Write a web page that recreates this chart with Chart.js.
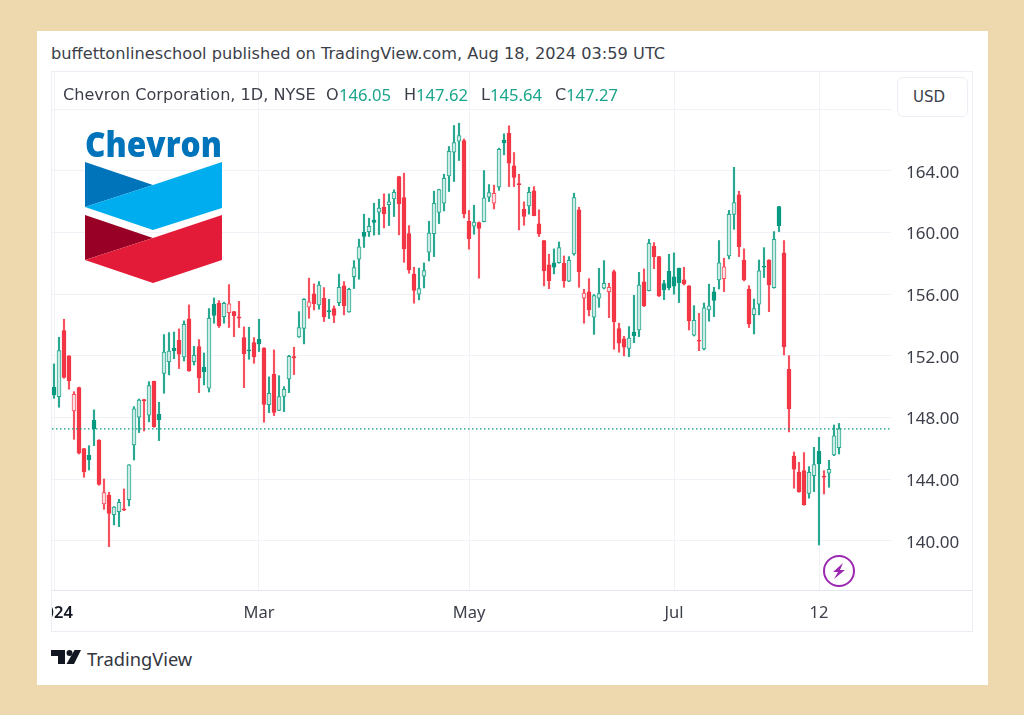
<!DOCTYPE html>
<html>
<head>
<meta charset="utf-8">
<title>Chevron Corporation, 1D, NYSE</title>
<script src="https://cdn.jsdelivr.net/npm/chart.js@4"></script>
<style>
  html, body { margin: 0; padding: 0; background: #eed9ae; width: 1024px; height: 715px; overflow: hidden; }
  body { position: relative; font-family: "DejaVu Sans", sans-serif; }
  .card { position: absolute; left: 37px; top: 31px; width: 951px; height: 654px; background: #fff; }
  .frame { position: absolute; left: 51px; top: 71px; width: 920px; height: 559px; border: 1px solid #eceef5; }
  .sep { position: absolute; left: 892px; top: 590px; width: 80px; height: 1px; background: #e4e6ef; }
  canvas { position: absolute; left: 52px; top: 72px; }
  .txt { position: absolute; white-space: pre; color: #3c3f4a; }
  #pub { left: 51px; top: 43px; font-size: 16.2px; line-height: 22px; }
  #leg { left: 63px; top: 84px; font-size: 16.1px; line-height: 22px; }
  .lbl { top: 84px; font-size: 16.1px; line-height: 22px; }
  .val { position: absolute; top: 84px; font-family: "Noto Sans", sans-serif; font-size: 16.6px; line-height: 22px; color: #1ba58c; }
  #usd { left: 897px; top: 77px; width: 54px; height: 38px; padding-left: 15px; border: 1px solid #eceef5; border-radius: 6px; background: #fff;
         font-size: 15px; line-height: 38px; }
  #tv { left: 87px; top: 646px; font-family: "Noto Sans", sans-serif; font-size: 18.3px; line-height: 26px; color: #33363f; }
  svg.over { position: absolute; left: 0; top: 0; width: 1024px; height: 715px; pointer-events: none; }
</style>
</head>
<body>
<div class="card"></div>
<div class="frame"></div>
<div class="sep"></div>
<canvas id="candles" width="920" height="559"></canvas>
<div class="txt" id="pub">buffettonlineschool published on TradingView.com, Aug 18, 2024 03:59 UTC</div>
<div class="txt" id="leg">Chevron Corporation, 1D, NYSE</div>
<div class="txt lbl" style="left:326px">O</div>
<div class="val" style="left:339px">146.05</div>
<div class="txt lbl" style="left:404px">H</div>
<div class="val" style="left:416px">147.62</div>
<div class="txt lbl" style="left:481px">L</div>
<div class="val" style="left:490px">145.64</div>
<div class="txt lbl" style="left:555px">C</div>
<div class="val" style="left:566px">147.27</div>
<div class="txt" id="usd">USD</div>
<div class="txt" id="tv">TradingView</div>
<svg class="over" viewBox="0 0 1024 715">
  <text x="85" y="157" font-family="Open Sans, sans-serif" font-weight="800" font-size="36" fill="#0074bb" textLength="137" lengthAdjust="spacingAndGlyphs">Chevron</text>
  <polygon points="85,162 153,185 85,207" fill="#0074bb"/>
  <polygon points="222,162 222,208 153,230 85,207 153,185" fill="#00adee"/>
  <polygon points="85,215 153,238 85,260" fill="#980025"/>
  <polygon points="222,215 222,260 153,283 85,260 153,238" fill="#e41b38"/>
  <circle cx="839" cy="571" r="15" fill="#fff" stroke="#9c27b0" stroke-width="2"/>
  <polygon points="843,563 833,572 838,572 834,579 845,570 840,570" fill="#9c27b0"/>
  <path d="M51 650h14v14h-7v-8h-7z" fill="#131722"/>
  <circle cx="69.5" cy="653" r="3" fill="#131722"/>
  <polygon points="74.5,650 81,650 74,664 66.5,664" fill="#131722"/>
</svg>
<script>
// values, one per trading day from 2 Jan to 16 Aug 2024
const opens = [149.97,149.36,153.64,152.00,148.43,149.94,145.99,145.56,147.83,146.53,
  142.40,142.98,141.71,141.90,142.08,142.68,146.23,148.02,149.14,148.15,
  150.35,148.21,150.87,151.63,152.49,153.01,151.93,154.40,151.63,152.60,
  151.26,149.90,155.35,155.43,154.55,154.81,154.87,154.53,153.19,152.39,
  152.86,153.08,152.49,148.84,150.81,148.47,149.38,150.51,151.95,153.23,
  153.79,155.16,156.02,155.31,155.74,154.94,155.07,155.46,156.54,154.85,
  157.14,158.27,160.02,160.06,160.80,161.32,161.64,161.81,162.18,163.63,
  162.27,159.93,157.30,156.00,157.17,158.72,159.93,161.30,161.90,163.67,
  165.21,165.92,165.96,160.73,160.41,160.65,160.71,162.29,161.90,162.96,
  165.99,166.44,164.32,163.18,161.51,161.73,162.70,160.56,159.48,157.90,
  158.03,158.05,158.01,156.84,158.61,161.47,155.74,156.15,154.51,155.74,
  156.39,156.17,157.47,153.77,153.10,152.49,153.55,153.68,156.80,156.23,
  159.11,158.44,156.69,157.49,157.12,157.68,156.93,156.54,153.34,153.01,
  152.45,154.98,156.15,156.93,157.01,158.48,161.18,162.44,158.22,156.34,
  154.68,155.35,157.81,158.22,156.43,161.68,158.66,151.13,145.51,144.47,
  144.56,143.09,144.24,145.82,144.19,144.39,145.58,146.05];
const highs = [151.48,153.21,154.38,152.02,149.68,149.98,146.00,146.18,148.50,146.57,
  144.02,143.16,142.23,142.70,143.37,144.95,148.71,149.21,149.19,150.33,
  150.37,148.99,153.38,153.51,153.55,153.75,154.27,155.31,152.62,153.06,
  152.19,155.07,155.76,155.59,155.48,156.62,154.89,155.54,153.88,153.86,
  153.19,154.38,152.54,150.64,152.39,150.72,150.01,152.04,152.56,154.87,
  155.72,157.04,156.67,156.82,156.43,155.67,155.24,157.30,156.82,156.39,
  158.18,159.57,161.19,160.93,161.90,162.16,162.51,162.51,162.77,163.65,
  163.85,160.45,157.75,157.69,158.03,160.73,162.68,162.81,163.78,165.58,
  166.94,167.09,166.07,161.43,161.77,160.69,164.02,163.11,163.07,165.47,
  166.40,166.92,165.19,163.78,161.99,162.94,162.98,161.47,159.50,158.59,
  158.94,159.39,158.48,158.44,162.55,161.64,156.32,157.01,155.98,157.68,
  158.18,156.71,157.57,154.12,153.27,153.90,155.93,157.42,157.64,159.56,
  159.35,158.46,156.90,158.59,158.68,157.70,157.75,156.56,155.26,154.76,
  155.43,156.65,156.45,159.48,158.33,161.44,164.23,162.68,158.94,156.56,
  155.69,158.22,159.02,158.24,160.06,161.70,159.48,152.02,145.77,145.10,
  145.73,144.82,146.07,146.72,144.56,145.23,147.52,147.62];
const lows = [149.25,148.67,150.55,149.84,146.59,145.64,144.13,144.60,146.18,143.61,
  142.05,139.63,141.04,140.93,141.97,142.27,145.25,147.03,147.13,147.72,
  147.37,146.51,149.58,150.77,151.82,151.18,151.67,151.00,151.41,149.62,
  150.12,149.66,154.12,153.84,154.12,153.84,153.25,153.84,149.94,151.78,
  151.52,152.28,147.70,148.32,148.13,148.45,148.39,149.62,150.79,153.20,
  152.78,154.44,154.98,155.03,154.23,154.42,154.16,155.26,154.66,154.83,
  156.37,156.97,159.03,159.74,159.83,159.87,160.30,160.45,161.04,159.85,
  158.07,157.36,155.42,155.63,156.41,158.16,158.44,160.58,161.40,162.66,
  163.31,164.67,160.95,158.92,159.89,157.04,160.69,162.01,161.53,162.74,
  165.04,162.98,162.98,160.17,160.47,161.19,161.08,159.74,156.54,156.36,
  157.32,158.01,156.45,156.82,158.53,156.45,154.12,154.59,153.40,155.15,
  156.34,154.48,152.43,152.24,152.00,151.95,152.86,153.25,155.20,156.21,
  157.66,155.85,155.65,156.28,156.00,155.46,156.60,153.68,153.29,152.34,
  152.39,154.25,154.55,156.34,156.17,158.29,160.21,158.44,156.86,153.84,
  153.42,154.66,157.08,154.87,156.39,160.06,152.06,147.07,143.42,143.16,
  142.31,142.77,143.20,139.74,143.05,143.48,145.53,145.64];
const closes = [149.47,152.34,150.61,150.40,149.51,145.69,144.50,145.25,147.26,143.67,
  143.13,141.79,142.20,142.51,141.99,144.93,148.56,149.14,149.10,150.07,
  147.41,147.87,152.24,152.32,152.34,152.11,154.05,151.02,152.04,150.57,
  150.98,154.44,154.63,153.96,155.41,155.38,154.61,154.44,152.15,152.32,
  151.95,152.78,148.86,149.58,148.34,149.36,149.84,151.98,151.89,153.84,
  155.67,155.50,155.39,156.60,154.53,154.85,154.62,156.45,155.26,156.32,
  157.73,159.07,159.74,160.41,160.65,161.58,161.23,161.99,162.61,161.86,
  158.94,157.58,156.24,156.37,157.53,159.96,161.90,162.79,163.52,165.27,
  165.84,166.29,161.21,159.61,160.67,160.26,162.25,162.59,162.55,165.40,
  165.81,164.49,163.57,163.11,161.04,162.61,161.10,159.91,157.53,156.88,
  157.75,159.02,156.86,158.20,162.27,157.47,156.08,154.98,155.91,156.04,
  156.71,156.45,154.22,152.82,152.56,153.16,153.32,156.60,155.24,159.30,
  158.44,155.89,156.30,156.43,156.52,156.75,156.67,154.29,154.31,152.95,
  155.11,155.24,155.59,158.03,157.77,161.18,161.94,159.09,156.93,154.07,
  155.07,157.51,157.75,156.60,159.56,160.45,152.60,148.56,144.65,143.18,
  142.36,144.45,144.95,145.02,144.13,144.65,146.81,147.27];

const priceTicks = [140, 144, 148, 152, 156, 160, 164, 168];
const lastLabelledPrice = 164;
const dateTicks = [0, 41, 83, 124, 153];
const dateLabels = ['2024', 'Mar', 'May', 'Jul', '12'];

const GREEN = '#089981', RED = '#f23645';
const GREEN_WICK = '#28a890', RED_WICK = '#f7515f';
const GREEN_PALE = '#cdebe5', RED_PALE = '#fde0e3';

const isUp = closes.map((c, i) => i === 0 || c >= closes[i - 1]);
const isHollow = closes.map((c, i) => c > opens[i]);
const lastClose = closes[closes.length - 1];

const xMin = -0.4, xMax = 167.4;

new Chart(document.getElementById('candles'), {
  type: 'bar',
  data: {
    datasets: [{
      type: 'line',
      data: [{ x: xMin, y: lastClose }, { x: xMax, y: lastClose }],
      borderColor: GREEN,
      borderWidth: 1.2,
      borderDash: [1.5, 2.5],
      pointRadius: 0,
      order: 0
    }, {
      data: closes.map((c, i) => ({ x: i, y: [Math.min(opens[i], c), Math.max(opens[i], c)] })),
      backgroundColor: isUp.map((u, i) => isHollow[i] ? (u ? GREEN_PALE : RED_PALE) : (u ? GREEN : RED)),
      borderColor: isUp.map((u, i) => isHollow[i] ? (u ? GREEN_WICK : RED_WICK) : (u ? GREEN : RED)),
      borderWidth: 1,
      borderSkipped: false,
      barThickness: 4,
      minBarLength: 1,
      order: 1
    }, {
      data: closes.map((c, i) => ({ x: i, y: [lows[i], highs[i]] })),
      backgroundColor: isUp.map(u => u ? GREEN_WICK : RED_WICK),
      barThickness: 1.5,
      order: 2
    }]
  },
  options: {
    responsive: false,
    animation: false,
    layout: { padding: 0 },
    datasets: { bar: { grouped: false } },
    plugins: { legend: { display: false }, tooltip: { enabled: false } },
    scales: {
      x: {
        type: 'linear',
        offset: false,
        min: xMin,
        max: xMax,
        afterBuildTicks: axis => { axis.ticks = dateTicks.map(v => ({ value: v })); },
        afterFit: axis => { axis.height = 41; axis.paddingLeft = 0; axis.paddingRight = 0; },
        ticks: {
          autoSkip: false,
          maxRotation: 0,
          padding: 13,
          color: ctx => ctx.index === 0 ? '#131722' : '#3c3f4a',
          font: ctx => ({ family: 'Noto Sans', size: 16.5, weight: ctx.index === 0 ? '600' : '400' }),
          callback: v => dateLabels[dateTicks.indexOf(v)]
        },
        grid: { color: '#f1f2f7', drawTicks: false, offset: false },
        border: { color: '#e4e6ef' }
      },
      y: {
        position: 'right',
        min: 136.82,
        max: 170.41,
        afterBuildTicks: axis => { axis.ticks = priceTicks.map(v => ({ value: v })); },
        afterFit: axis => { axis.width = 81; axis.paddingTop = 0; axis.paddingBottom = 0; },
        ticks: {
          padding: 15,
          labelOffset: 2,
          color: '#3c3f4a',
          font: { family: 'Noto Sans', size: 17 },
          callback: v => v <= lastLabelledPrice ? v.toFixed(2) : ''
        },
        grid: { color: '#f1f2f7', drawTicks: false },
        border: { display: false }
      }
    }
  }
});
</script>
</body>
</html>
